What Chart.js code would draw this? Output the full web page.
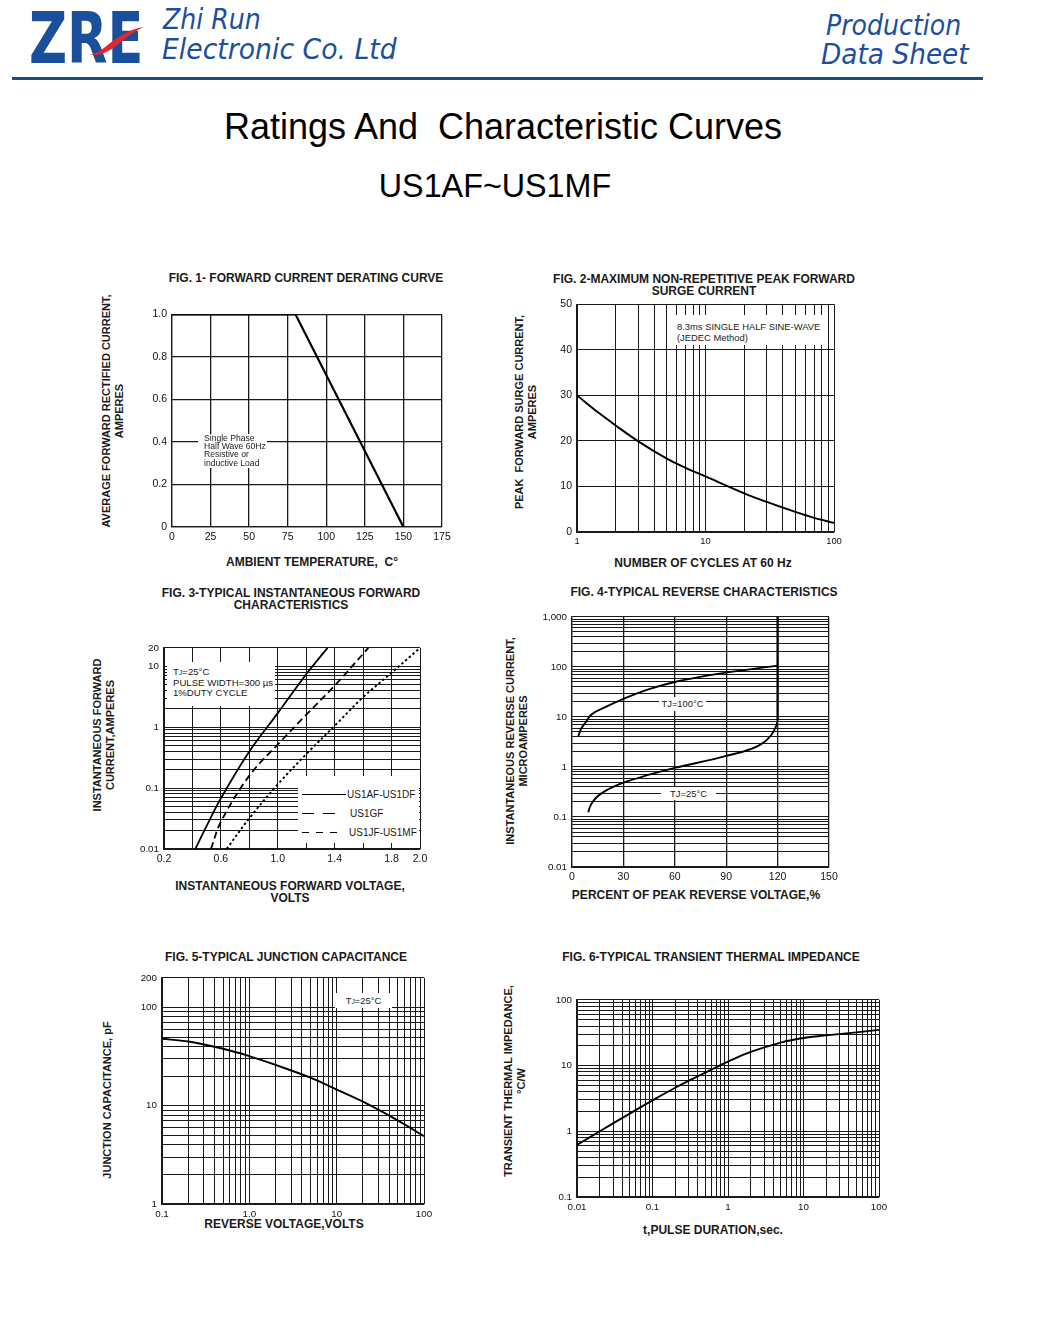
<!DOCTYPE html>
<html>
<head>
<meta charset="utf-8">
<script src="https://cdn.jsdelivr.net/npm/chart.js@4.4.1/dist/chart.umd.min.js"></script>
<style>
  body{margin:0;background:#fff;width:1040px;height:1325px;position:relative;overflow:hidden;font-family:"Liberation Sans",Arial,sans-serif;color:#111}
  canvas{position:absolute}
  .abs{position:absolute;white-space:nowrap}
  .brand{position:absolute;color:#1d4f9b;font-family:"DejaVu Sans",sans-serif;font-style:italic;font-size:29px;line-height:1;transform:scaleX(0.87);transform-origin:left top;white-space:nowrap}
  .main{position:absolute;transform:translate(-50%,-50%);font-size:36px;line-height:1;white-space:pre;color:#000}
  .ft{position:absolute;transform:translate(-50%,-50%);font-weight:bold;font-size:12px;line-height:12px;text-align:center;white-space:nowrap;color:#1a1a1a}
  .xt{position:absolute;transform:translate(-50%,-50%);font-weight:bold;font-size:12px;line-height:12px;text-align:center;white-space:pre;color:#1a1a1a}
  .yt{position:absolute;transform:translate(-50%,-50%) rotate(-90deg);font-weight:bold;font-size:11px;line-height:12.5px;text-align:center;white-space:nowrap;color:#1a1a1a}
  .note{position:absolute;background:#fff;white-space:nowrap;color:#1a1a1a;z-index:2}
  .sub{font-size:0.72em}
</style>
</head>
<body>

<!-- header -->
<div class="abs" style="left:29px;top:2px;font:bold 72px 'DejaVu Sans',sans-serif;line-height:1;color:#1a4f9c;transform:scaleX(0.73);transform-origin:left top">ZRE</div>
<svg class="abs" style="left:84px;top:24px" width="64" height="34">
  <path d="M3 30 C 18 34, 28 8, 60 3 C 36 13, 26 36, 3 30 Z" fill="#e1262c"/>
</svg>
<div class="brand" style="left:163px;top:5px">Zhi Run</div>
<div class="brand" style="left:162px;top:35px;transform:scaleX(0.92)">Electronic Co. Ltd</div>
<div class="brand" style="left:826px;top:11px">Production</div>
<div class="brand" style="left:821px;top:40px;transform:scaleX(0.91)">Data Sheet</div>
<div class="abs" style="left:12px;top:77px;width:971px;height:3px;background:#1d4a88"></div>

<div class="main" style="left:503px;top:127px">Ratings And  Characteristic Curves</div>
<div class="main" style="left:495px;top:186px;font-size:32.3px">US1AF~US1MF</div>

<!-- figure titles -->
<div class="ft" style="left:306px;top:278px">FIG. 1- FORWARD CURRENT DERATING CURVE</div>
<div class="ft" style="left:704px;top:285px">FIG. 2-MAXIMUM NON-REPETITIVE PEAK FORWARD<br>SURGE CURRENT</div>
<div class="ft" style="left:291px;top:599px">FIG. 3-TYPICAL INSTANTANEOUS FORWARD<br>CHARACTERISTICS</div>
<div class="ft" style="left:704px;top:592px">FIG. 4-TYPICAL REVERSE CHARACTERISTICS</div>
<div class="ft" style="left:286px;top:957px">FIG. 5-TYPICAL JUNCTION CAPACITANCE</div>
<div class="ft" style="left:711px;top:957px">FIG. 6-TYPICAL TRANSIENT THERMAL IMPEDANCE</div>

<!-- axis titles -->
<div class="xt" style="left:312px;top:562px">AMBIENT TEMPERATURE,  C°</div>
<div class="xt" style="left:703px;top:563px">NUMBER OF CYCLES AT 60 Hz</div>
<div class="xt" style="left:290px;top:892px">INSTANTANEOUS FORWARD VOLTAGE,<br>VOLTS</div>
<div class="xt" style="left:696px;top:895px">PERCENT OF PEAK REVERSE VOLTAGE,%</div>
<div class="xt" style="left:284px;top:1224px">REVERSE VOLTAGE,VOLTS</div>
<div class="xt" style="left:713px;top:1230px">t,PULSE DURATION,sec.</div>

<div class="yt" style="left:112px;top:411px">AVERAGE FORWARD RECTIFIED CURRENT,<br>AMPERES</div>
<div class="yt" style="left:525px;top:412px">PEAK&nbsp; FORWARD SURGE CURRENT,<br>AMPERES</div>
<div class="yt" style="left:103px;top:735px">INSTANTANEOUS FORWARD<br>CURRENT,AMPERES</div>
<div class="yt" style="left:516px;top:741px">INSTANTANEOUS REVERSE CURRENT,<br>MICROAMPERES</div>
<div class="yt" style="left:107px;top:1100px">JUNCTION CAPACITANCE, pF</div>
<div class="yt" style="left:514px;top:1081px">TRANSIENT THERMAL IMPEDANCE,<br>°C/W</div>

<canvas id="fig1"></canvas>
<canvas id="fig2"></canvas>
<canvas id="fig3"></canvas>
<canvas id="fig4"></canvas>
<canvas id="fig5"></canvas>
<canvas id="fig6"></canvas>

<!-- notes on the plots -->
<div class="note" style="left:198px;top:434px;width:69px;height:34px;font-size:8.6px;line-height:8.2px;padding:0 0 0 6px;box-sizing:border-box">Single Phase<br>Half Wave 60Hz<br>Resistive or<br>inductive Load</div>
<div class="note" style="left:673px;top:315px;width:155px;height:30px;font-size:9.4px;line-height:11px;padding:6px 0 0 4px;box-sizing:border-box">8.3ms SINGLE HALF SINE-WAVE<br>(JEDEC Method)</div>
<div class="note" style="left:167px;top:662px;width:108px;height:44px;font-size:9.6px;line-height:10px;padding:5px 0 0 6px;box-sizing:border-box">T<span class="sub">J</span>=25°C<br>PULSE WIDTH=300 µs<br>1%DUTY CYCLE</div>
<div class="note" style="left:298px;top:776px;width:121px;height:67px;font-size:10px">
  <svg class="abs" style="left:4px;top:0" width="46" height="67">
    <line x1="0" y1="18.5" x2="44" y2="18.5" stroke="#000" stroke-width="1.2"/>
    <line x1="0" y1="37.5" x2="37" y2="37.5" stroke="#000" stroke-width="1.2" stroke-dasharray="12,9"/>
    <line x1="0" y1="56.5" x2="37" y2="56.5" stroke="#000" stroke-width="1.2" stroke-dasharray="7,7"/>
  </svg>
  <div class="abs" style="left:49px;top:13px">US1AF-US1DF</div>
  <div class="abs" style="left:52px;top:32px">US1GF</div>
  <div class="abs" style="left:51px;top:51px">US1JF-US1MF</div>
</div>
<div class="note" style="left:659px;top:697px;width:47px;height:14px;font-size:9.4px;line-height:14px;text-align:center">TJ=100°C</div>
<div class="note" style="left:661px;top:787px;width:55px;height:13px;font-size:9.4px;line-height:13px;text-align:center">TJ=25°C</div>
<div class="note" style="left:335px;top:993px;width:57px;height:15px;font-size:9.4px;line-height:15px;text-align:center">T<span class="sub">J</span>=25°C</div>

<script>
// ================= DATA =================
// Fig.1 forward current derating
const f1Temp  = [0, 80, 150];
const f1Amps  = [1.0, 1.0, 0];
const f1XTicks = [0, 25, 50, 75, 100, 125, 150, 175];
const f1YTicks = [0, 0.2, 0.4, 0.6, 0.8, 1.0];
const f1YLabels = ["0", "0.2", "0.4", "0.6", "0.8", "1.0"];

// Fig.2 peak forward surge current
const f2Cycles = [1, 1.5, 2, 3, 5, 7, 10, 20, 30, 50, 70, 100];
const f2Amps   = [30, 26.0, 23.4, 19.9, 16.1, 14.1, 12.2, 8.5, 6.6, 4.4, 3.1, 2.0];
const f2YTicks = [0, 10, 20, 30, 40, 50];
const f2XLabelAt = [1, 10, 100];
const f2XLabels  = ["1", "10", "100"];

// Fig.3 forward characteristics
const f3VoltAD = [0.42, 0.5, 0.6, 0.8, 1.0, 1.2, 1.35];
const f3AmpAD  = [0.01, 0.024, 0.068, 0.4, 1.7, 7.4, 20];
const f3VoltG  = [0.53, 0.6, 0.8, 1.0, 1.2, 1.4, 1.637];
const f3AmpG   = [0.01, 0.028, 0.16, 0.52, 1.6, 4.8, 20];
const f3VoltJM = [0.64, 0.8, 1.0, 1.2, 1.4, 1.6, 1.8, 2.0];
const f3AmpJM  = [0.01, 0.032, 0.115, 0.36, 1.05, 3.1, 7.8, 20];
const f3XTicks = [0.2, 0.4, 0.6, 0.8, 1.0, 1.2, 1.4, 1.6, 1.8, 2.0];
const f3XLabelAt = [0.2, 0.6, 1.0, 1.4, 1.8, 2.0];
const f3XLabels  = ["0.2", "0.6", "1.0", "1.4", "1.8", "2.0"];
const f3YLabelAt = [0.01, 0.1, 1, 10, 20];
const f3YLabels  = ["0.01", "0.1", "1", "10", "20"];

// Fig.4 reverse characteristics
const f4Pct100 = [3.7, 5, 8, 10.5, 20, 30, 45, 60, 90, 120];
const f4Ua100  = [4.1, 5.5, 7.8, 10.5, 16, 23, 36, 50, 77, 106];
const f4Pct25  = [9.5, 10.5, 12.5, 15, 20, 30, 45, 60, 90, 110, 116, 119, 120];
const f4Ua25   = [0.124, 0.16, 0.21, 0.26, 0.34, 0.485, 0.7, 0.96, 1.66, 2.8, 4.2, 6.4, 8.5];
const f4PctBreak = [120, 120];
const f4UaBreak  = [8.5, 1000];
const f4XTicks = [0, 30, 60, 90, 120, 150];
const f4YLabelAt = [0.01, 0.1, 1, 10, 100, 1000];
const f4YLabels  = ["0.01", "0.1", "1", "10", "100", "1,000"];

// Fig.5 junction capacitance
const f5Volt = [0.1, 0.2, 0.5, 1, 2, 5, 10, 20, 50, 100];
const f5Pf   = [48, 45, 38, 32, 26, 19.3, 14.6, 11, 7.1, 4.9];
const f5XLabelAt = [0.1, 1, 10, 100];
const f5XLabels  = ["0.1", "1.0", "10", "100"];
const f5YLabelAt = [1, 10, 100, 200];
const f5YLabels  = ["1", "10", "100", "200"];

// Fig.6 transient thermal impedance
const f6Sec = [0.01, 0.02, 0.05, 0.1, 0.2, 0.5, 1, 2, 5, 10, 20, 50, 100];
const f6Zth = [0.62, 1.0, 1.86, 2.95, 4.6, 7.8, 11.5, 16.2, 22.4, 26.3, 28.8, 32, 35];
const f6XLabelAt = [0.01, 0.1, 1, 10, 100];
const f6XLabels  = ["0.01", "0.1", "1", "10", "100"];
const f6YLabelAt = [0.1, 1, 10, 100];
const f6YLabels  = ["0.1", "1", "10", "100"];

// ================= HELPERS =================
const pts = (xs, ys) => xs.map((x, i) => ({ x: x, y: ys[i] }));

// 1..9 x 10^n grid lines between lo and hi
function logTicks(lo, hi){
  const out = [];
  for(let e = Math.floor(Math.log10(lo)); e <= Math.ceil(Math.log10(hi)); e++){
    for(let m = 1; m < 10; m++){
      const v = Number((m * Math.pow(10, e)).toPrecision(4));
      if(v >= lo * 0.999 && v <= hi * 1.001) out.push(v);
    }
  }
  return out;
}

const FONT = '"Liberation Sans", Arial, sans-serif';

function axis(a, dir, size){
  return {
    type: a.type, min: a.min, max: a.max,
    afterBuildTicks: s => { s.ticks = a.ticks.map(v => ({ value: v })); },
    afterFit: s => { if(dir === "x") s.height = size; else s.width = size; },
    grid: { color: "#1a1a1a", lineWidth: a.gw || 1, drawTicks: false },
    border: { color: "#1a1a1a", width: 1.2 },
    ticks: {
      autoSkip: false, maxRotation: 0, padding: dir === "x" ? 4 : 5,
      color: "#111", font: { family: FONT, size: a.fs || 10.5 },
      callback: v => {
        const i = a.at.findIndex(t => Math.abs(t - v) <= Math.abs(t) * 1e-6 + 1e-9);
        return i < 0 ? "" : a.labels[i];
      }
    }
  };
}

// smooth curve through the read points
function line(data, extra){
  return Object.assign({
    data: data, borderColor: "#000", borderWidth: 1.8, pointRadius: 0,
    fill: false, tension: 0.35, cubicInterpolationMode: "default"
  }, extra || {});
}

// plot area given in page pixels (L,T,R,B)
function plot(id, area, x, y, datasets){
  const padL = 44, padT = 8, padR = 14, padB = 22;
  const cv = document.getElementById(id);
  const w = area.R - area.L + padL + padR, h = area.B - area.T + padT + padB;
  cv.width = w; cv.height = h;
  cv.style.width = w + "px"; cv.style.height = h + "px";
  cv.style.left = (area.L - padL) + "px"; cv.style.top = (area.T - padT) + "px";
  return new Chart(cv, {
    type: "line",
    data: { datasets: datasets },
    options: {
      responsive: false, animation: false, events: [],
      layout: { padding: { left: 0, top: padT, right: padR, bottom: 0 } },
      plugins: { legend: { display: false }, tooltip: { enabled: false } },
      scales: { x: axis(x, "x", padB), y: axis(y, "y", padL) }
    }
  });
}

// ================= CHARTS =================
plot("fig1", { L: 172, T: 311, R: 442, B: 527 },
  { type: "linear", min: 0, max: 175, ticks: f1XTicks, at: f1XTicks, labels: f1XTicks.map(String), gw: 1.3 },
  { type: "linear", min: 0, max: 1.0, ticks: f1YTicks, at: f1YTicks, labels: f1YLabels, gw: 1.3 },
  [ line(pts(f1Temp, f1Amps), { tension: 0, borderWidth: 2.2 }) ]);

plot("fig2", { L: 577, T: 301, R: 834, B: 532 },
  { type: "logarithmic", min: 1, max: 100, ticks: logTicks(1, 100), at: f2XLabelAt, labels: f2XLabels, fs: 9.4 },
  { type: "linear", min: 0, max: 50, ticks: f2YTicks, at: f2YTicks, labels: f2YTicks.map(String) },
  [ line(pts(f2Cycles, f2Amps), { borderWidth: 1.9 }) ]);

plot("fig3", { L: 164, T: 645, R: 420, B: 849 },
  { type: "linear", min: 0.2, max: 2.0, ticks: f3XTicks, at: f3XLabelAt, labels: f3XLabels },
  { type: "logarithmic", min: 0.01, max: 20, ticks: logTicks(0.01, 20), at: f3YLabelAt, labels: f3YLabels, fs: 9.8 },
  [
    line(pts(f3VoltAD, f3AmpAD)),
    line(pts(f3VoltG, f3AmpG), { borderDash: [7, 4] }),
    line(pts(f3VoltJM, f3AmpJM), { borderDash: [2.5, 2.5], borderWidth: 1.9 })
  ]);

plot("fig4", { L: 572, T: 614, R: 829, B: 867 },
  { type: "linear", min: 0, max: 150, ticks: f4XTicks, at: f4XTicks, labels: f4XTicks.map(String), gw: 1.3 },
  { type: "logarithmic", min: 0.01, max: 1000, ticks: logTicks(0.01, 1000), at: f4YLabelAt, labels: f4YLabels, fs: 9.8 },
  [
    line(pts(f4Pct100, f4Ua100), { borderWidth: 1.9, cubicInterpolationMode: "monotone" }),
    line(pts(f4Pct25, f4Ua25), { borderWidth: 1.9, cubicInterpolationMode: "monotone" }),
    line(pts(f4PctBreak, f4UaBreak), { borderWidth: 2.3, tension: 0 })
  ]);

plot("fig5", { L: 162, T: 975, R: 424, B: 1204 },
  { type: "logarithmic", min: 0.1, max: 100, ticks: logTicks(0.1, 100), at: f5XLabelAt, labels: f5XLabels, fs: 9.8 },
  { type: "logarithmic", min: 1, max: 200, ticks: logTicks(1, 200), at: f5YLabelAt, labels: f5YLabels, fs: 9.8 },
  [ line(pts(f5Volt, f5Pf), { borderWidth: 1.9 }) ]);

plot("fig6", { L: 577, T: 997, R: 879, B: 1197 },
  { type: "logarithmic", min: 0.01, max: 100, ticks: logTicks(0.01, 100), at: f6XLabelAt, labels: f6XLabels, fs: 9.8 },
  { type: "logarithmic", min: 0.1, max: 100, ticks: logTicks(0.1, 100), at: f6YLabelAt, labels: f6YLabels, fs: 9.8 },
  [ line(pts(f6Sec, f6Zth), { borderWidth: 1.9 }) ]);
</script>
</body>
</html>
